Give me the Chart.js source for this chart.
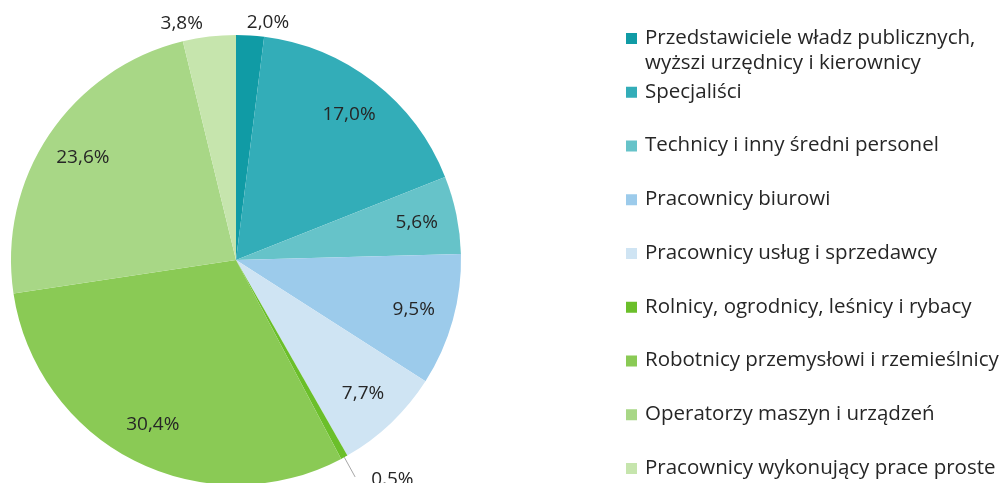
<!DOCTYPE html>
<html>
<head>
<meta charset="utf-8">
<script src="https://cdn.jsdelivr.net/npm/chart.js@4.4.1/dist/chart.umd.min.js"></script>
<style>
    html, body {margin: 0; padding: 0; background: #fff; overflow: hidden;}
    #wrap {width: 1005px; height: 483px; overflow: hidden;}
</style>
</head>
<body>
<div id="wrap"><canvas id="pieChart" width="1005" height="500"></canvas></div>
<script>
var categories = [
    "Przedstawiciele władz publicznych,\nwyższi urzędnicy i kierownicy",
    "Specjaliści",
    "Technicy i inny średni personel",
    "Pracownicy biurowi",
    "Pracownicy usług i sprzedawcy",
    "Rolnicy, ogrodnicy, leśnicy i rybacy",
    "Robotnicy przemysłowi i rzemieślnicy",
    "Operatorzy maszyn i urządzeń",
    "Pracownicy wykonujący prace proste"
];
var values = [2.0, 17.0, 5.6, 9.5, 7.7, 0.5, 30.4, 23.6, 3.8];
var colors = ['#109ba5', '#33adb8', '#66c3c9', '#9ccbeb', '#cfe4f3', '#6bbf2a', '#8aca55', '#a8d786', '#c6e5ad'];

var FONT = '"Open Sans", "Noto Sans", sans-serif';
var TEXT_COLOR = '#262626';

function fmt(v) {
    return v.toFixed(1).replace('.', ',') + '%';
}

// etykiety wartosci na wycinkach
var labelsPlugin = {
    id: 'pieLabels',
    afterDatasetsDraw: function (chart) {
        var ctx = chart.ctx;
        var meta = chart.getDatasetMeta(0);
        ctx.save();
        ctx.font = '19px ' + FONT;
        ctx.fillStyle = TEXT_COLOR;
        ctx.textBaseline = 'middle';
        meta.data.forEach(function (arc, i) {
            var p = arc.getProps(['x', 'y', 'startAngle', 'endAngle', 'outerRadius'], true);
            var mid = (p.startAngle + p.endAngle) / 2;
            var r = p.outerRadius;
            var cos = Math.cos(mid), sin = Math.sin(mid);
            var text = fmt(values[i]);
            if (values[i] >= 4) {
                ctx.textAlign = 'center';
                ctx.fillText(text, p.x + cos * r * 0.82, p.y + sin * r * 0.82);
            } else if (values[i] < 1) {
                var x1 = p.x + cos * r, y1 = p.y + sin * r;
                var x2 = p.x + cos * r * 1.1, y2 = p.y + sin * r * 1.1;
                ctx.strokeStyle = '#a6a6a6';
                ctx.lineWidth = 1;
                ctx.beginPath();
                ctx.moveTo(x1, y1);
                ctx.lineTo(x2, y2);
                ctx.stroke();
                ctx.textAlign = 'left';
                ctx.fillText(text, x2 + 16, y2 + 3);
            } else {
                ctx.textAlign = cos >= 0 ? 'left' : 'right';
                ctx.fillText(text, p.x + cos * r * 1.05 + (cos >= 0 ? -4 : -5), p.y + sin * r * 1.05 - 2);
            }
        });
        ctx.restore();
    }
};

// legenda po prawej stronie
var legendPlugin = {
    id: 'sideLegend',
    afterDraw: function (chart) {
        var ctx = chart.ctx;
        ctx.save();
        ctx.font = '20.5px ' + FONT;
        ctx.textBaseline = 'middle';
        ctx.textAlign = 'left';
        categories.forEach(function (name, i) {
            var y = 38 + i * 53.75;
            ctx.fillStyle = colors[i];
            ctx.fillRect(626, y - 5, 11, 11);
            ctx.fillStyle = TEXT_COLOR;
            name.split('\n').forEach(function (line, j) {
                ctx.fillText(line, 645, y + j * 25);
            });
        });
        ctx.restore();
    }
};

var ctx1 = document.getElementById('pieChart').getContext('2d');
new Chart(ctx1, {
    type: 'pie',
    data: {
        labels: categories,
        datasets: [{
            data: values,
            backgroundColor: colors,
            borderWidth: 0
        }]
    },
    options: {
        responsive: false,
        animation: false,
        layout: {padding: {left: 11, right: 544, top: 35, bottom: 15}},
        plugins: {
            legend: {display: false},
            tooltip: {enabled: false}
        }
    },
    plugins: [labelsPlugin, legendPlugin]
});
</script>
</body>
</html>
